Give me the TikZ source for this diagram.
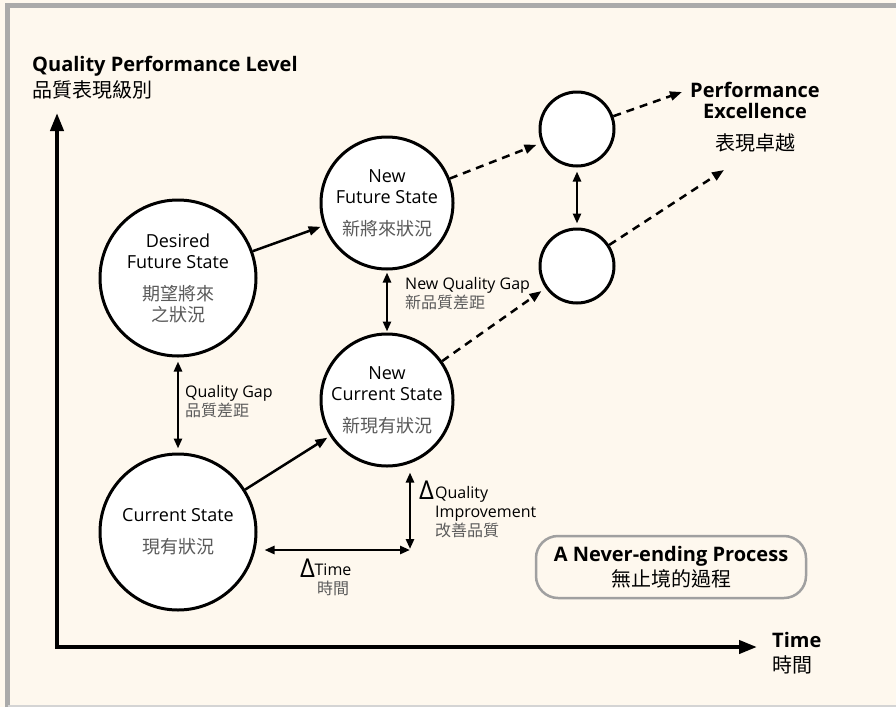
\documentclass[tikz,border=0pt]{standalone}
\usepackage{fontspec}
\setmainfont{Open Sans}
\newfontfamily\cjk{Noto Sans CJK TC}
\usetikzlibrary{arrows.meta}
\definecolor{paper}{RGB}{254,248,238}
\definecolor{framegray}{RGB}{170,170,170}
\definecolor{boxgray}{RGB}{160,160,160}
\definecolor{cjkgray}{RGB}{90,90,90}
\newcommand{\zh}[1]{{\cjk\color{cjkgray}#1}}
\newcommand{\zhk}[1]{{\cjk\mdseries #1}}
\begin{document}
\begin{tikzpicture}[x=1pt,y=-1pt]
\tikzstyle{every node}+=[inner sep=0pt]
\tikzstyle{state}=[circle, draw, line width=3pt, fill=white, align=center, font=\fontsize{18}{21}\selectfont]
\tikzstyle{link}=[line width=2.5pt, -{Triangle[length=12pt,width=9pt]}, shorten >=3pt]
\tikzstyle{gap}=[line width=2.5pt, {Triangle[length=10pt,width=8pt]}-{Triangle[length=10pt,width=8pt]}, shorten <=4pt, shorten >=4pt]
\tikzstyle{trend}=[line width=2.5pt, dash pattern=on 8pt off 6pt, -{Triangle[length=12pt,width=9pt]}, shorten >=5pt]
\tikzstyle{axis}=[line width=4pt, {Triangle[length=18pt,width=13pt]}-{Triangle[length=18pt,width=13pt]}]
\tikzstyle{note}=[align=left, anchor=north west, font=\fontsize{16}{19}\selectfont]
\tikzstyle{heading}=[font=\bfseries\fontsize{20}{21}\selectfont]
\tikzstyle{deltamark}=[anchor=base west, font=\fontsize{26}{26}\selectfont]
\fill[paper] (0,0) rectangle (896,707);
\useasboundingbox (0,0) rectangle (896,707);
\draw[framegray, line width=5pt] (7.5,707) -- (7.5,5.5) -- (896,5.5);
\draw[framegray!50, line width=1.5pt] (7.5,706) -- (896,706);
\coordinate (origin) at (57,647);
\coordinate (ytop) at (57,113);
\coordinate (xend) at (757,647);
\coordinate (excel1) at (682,92);
\coordinate (excel2) at (724,170);
\coordinate (corner) at (410,550);
\draw[axis] (ytop) -- (origin) -- (xend);
\node[heading, align=left, anchor=north west] (ylabel) at (32,56) {Quality Performance Level\\[3pt]\zhk{品質表現級別}};
\node[heading, align=left, anchor=north west] (xlabel) at (772,632) {Time\\[4pt]\zhk{時間}};
\node[heading, align=center, anchor=north] (excellence) at (755,82) {Performance\\Excellence\\[11pt]\zhk{表現卓越}};
\node[state, minimum size=156pt] (desired) at (178,278) {Desired\\Future State\\[11pt]\zh{期望將來}\\\zh{之狀況}};
\node[state, minimum size=156pt] (current) at (178,532) {Current State\\[11pt]\zh{現有狀況}};
\node[state, minimum size=132pt] (newfuture) at (387,203) {New\\Future State\\[11pt]\zh{新將來狀況}};
\node[state, minimum size=132pt] (newcurrent) at (387,400) {New\\Current State\\[11pt]\zh{新現有狀況}};
\node[state, minimum size=74pt] (nextfuture) at (577,129) {};
\node[state, minimum size=74pt] (nextcurrent) at (577,266) {};
\draw[link] (desired) -- (newfuture);
\draw[link] (current) -- (newcurrent);
\draw[gap] (desired) -- (current);
\draw[gap, shorten <=2pt, shorten >=1pt] (newfuture) -- (newcurrent);
\draw[gap] (nextfuture) -- (nextcurrent);
\draw[gap, shorten <=7pt, shorten >=0pt] (current.east |- corner) -- (corner);
\draw[gap, shorten <=5pt, shorten >=1pt] (newcurrent.south -| corner) -- (corner);
\draw[trend] (newfuture) -- (nextfuture);
\draw[trend] (newcurrent) -- (nextcurrent);
\draw[trend, shorten >=0pt] (nextfuture) -- (excel1);
\draw[trend, shorten >=0pt] (nextcurrent) -- (excel2);
\node[note] (gaplabel) at (185,385) {Quality Gap\\\zh{品質差距}};
\node[note] (newgaplabel) at (405,277) {New Quality Gap\\\zh{新品質差距}};
\node[deltamark] (dquality) at (419,499) {Δ};
\node[note] (improvelabel) at (435,486) {Quality\\Improvement\\\zh{改善品質}};
\node[deltamark] (dtime) at (300,577) {Δ};
\node[note, align=center, anchor=north] (timelabel) at (333,564) {Time\\\zh{時間}};
\node[heading, draw=boxgray, line width=2.5pt, rounded corners=22pt, minimum width=270pt, minimum height=62pt, align=center] (neverending) at (671,567) {A Never-ending Process\\[2pt]\zhk{無止境的過程}};
\end{tikzpicture}
\end{document}
